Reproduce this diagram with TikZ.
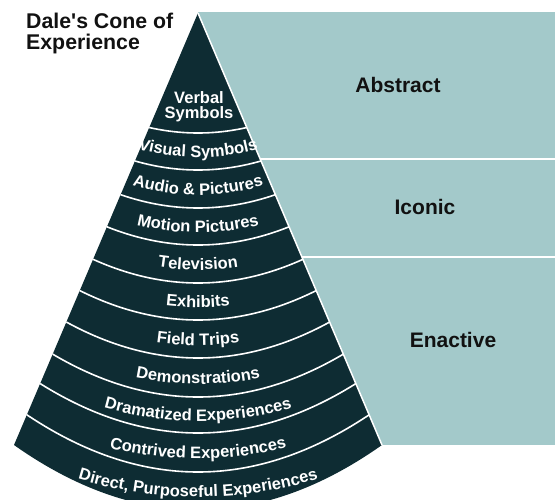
\documentclass[tikz,border=0pt]{standalone}
\usepackage{fontspec}
\setmainfont{Liberation Sans}
\usetikzlibrary{decorations.text}
\definecolor{conedark}{HTML}{0E2C33}
\definecolor{panelteal}{HTML}{A3C9CA}
\definecolor{labelink}{HTML}{111111}
\newcommand{\conefont}{\bfseries\fontsize{16.5}{19}\selectfont}
\newcommand{\bigfont}{\bfseries\fontsize{21}{24}\selectfont}
\newcommand{\titlefont}{\bfseries\fontsize{21.3}{24}\selectfont}
\newcommand{\conesep}[2]{%
  \pgfmathsetmacro\sepS{#2*200*200}%
  \pgfmathsetmacro\sepE{-(#1-\sepS)}%
  \pgfmathsetmacro\sepK{-(#1+\sepS/3)}%
  \draw[sepline] (-2,\sepE) .. controls (131.33,\sepK) and (264.67,\sepK) .. (398,\sepE);%
}
\newcommand{\bandtext}[3]{%
  \pgfmathsetmacro\bandS{#2*200*200}%
  \pgfmathsetmacro\bandE{-(#1-\bandS)}%
  \pgfmathsetmacro\bandK{-(#1+\bandS/3)}%
  \path[decorate, decoration={text along path, text align=center, text color=white, text={|\conefont|#3}}] (-2,\bandE) .. controls (131.33,\bandK) and (264.67,\bandK) .. (398,\bandE);%
}
\begin{document}
\begin{tikzpicture}[x=1pt,y=1pt,
  sepline/.style={draw=white, line width=1.6pt},
  panelline/.style={draw=white, line width=1.8pt},
  panellabel/.style={font=\bigfont, text=labelink, anchor=base, inner sep=0pt},
  titlelabel/.style={font=\titlefont, text=labelink, anchor=base west, inner sep=0pt},
  conelabel/.style={font=\conefont, text=white, anchor=base, inner sep=0pt}]
\useasboundingbox (0,0) rectangle (555,-499);
% right panel
\fill[panelteal] (198,-12) rectangle (555,-445);
\draw[panelline] (230,-159) -- (555,-159);
\draw[panelline] (260,-257) -- (555,-257);
\node[panellabel] (abstract) at (398,-92) {Abstract};
\node[panellabel] (iconic) at (425,-214) {Iconic};
\node[panellabel] (enactive) at (453,-347) {Enactive};
% title
\node[titlelabel] (title1) at (26,-28) {Dale\textquotesingle s Cone of};
\node[titlelabel] (title2) at (26,-49) {Experience};
% cone
\coordinate (apex) at (198,-13);
\coordinate (lc) at (14,-445);
\coordinate (rc) at (382,-445);
\fill[conedark] (apex) -- (lc) .. controls (136.67,-531.67) and (259.33,-531.67) .. (rc) -- cycle;
\begin{scope}
\clip (apex) -- (lc) .. controls (136.67,-531.67) and (259.33,-531.67) .. (rc) -- cycle;
\conesep{133}{0.00231}
\conesep{170}{0.00227}
\conesep{208}{0.00223}
\conesep{245}{0.00219}
\conesep{283}{0.00215}
\conesep{320}{0.00211}
\conesep{358}{0.00207}
\conesep{397}{0.00203}
\conesep{433}{0.00199}
\conesep{472}{0.00195}
\end{scope}
\draw[white, line width=1.5pt] (apex) -- (rc);
% labels
\node[conelabel] (verbal) at (199,-103) {Verbal};
\node[conelabel] (symbols) at (199,-118) {Symbols};
\bandtext{157.5}{0.00229}{Visual Symbols}
\bandtext{195}{0.00220}{Audio {\&} Pictures}
\bandtext{232.5}{0.00200}{Motion Pictures}
\bandtext{270}{0.00190}{Television}
\bandtext{307.5}{0.00180}{Exhibits}
\bandtext{345.5}{0.00170}{Field Trips}
\bandtext{384}{0.00160}{Demonstrations}
\bandtext{421}{0.00150}{Dramatized Experiences}
\bandtext{458.5}{0.00135}{Contrived Experiences}
\bandtext{497}{0.00125}{Direct, Purposeful Experiences}
\end{tikzpicture}
\end{document}
